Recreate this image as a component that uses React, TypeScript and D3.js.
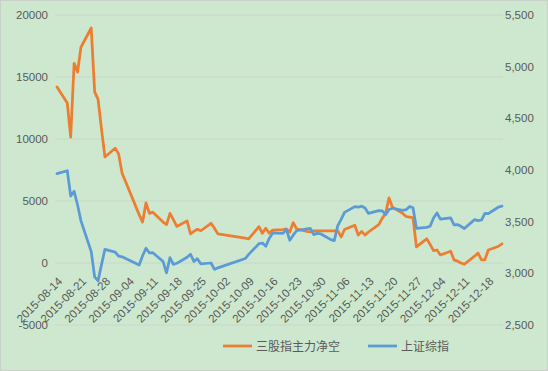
import { useMemo } from "react";
import * as d3 from "d3";

const dates = [
  "2015-08-14", "2015-08-17", "2015-08-18", "2015-08-19", "2015-08-20", "2015-08-21",
  "2015-08-24", "2015-08-25", "2015-08-26", "2015-08-27", "2015-08-28", "2015-08-31",
  "2015-09-01", "2015-09-02", "2015-09-07", "2015-09-08", "2015-09-09", "2015-09-10",
  "2015-09-11", "2015-09-14", "2015-09-15", "2015-09-16", "2015-09-17", "2015-09-18",
  "2015-09-21", "2015-09-22", "2015-09-23", "2015-09-24", "2015-09-25", "2015-09-28",
  "2015-09-29", "2015-09-30",
  "2015-10-08", "2015-10-09", "2015-10-12", "2015-10-13", "2015-10-14", "2015-10-15",
  "2015-10-16", "2015-10-19", "2015-10-20", "2015-10-21", "2015-10-22", "2015-10-23",
  "2015-10-26", "2015-10-27", "2015-10-28", "2015-10-29", "2015-10-30",
  "2015-11-02", "2015-11-03", "2015-11-04", "2015-11-05", "2015-11-06", "2015-11-09",
  "2015-11-10", "2015-11-11", "2015-11-12", "2015-11-13", "2015-11-16", "2015-11-17",
  "2015-11-18", "2015-11-19", "2015-11-20", "2015-11-23", "2015-11-24", "2015-11-25",
  "2015-11-26", "2015-11-27", "2015-11-30",
  "2015-12-01", "2015-12-02", "2015-12-03", "2015-12-04", "2015-12-07", "2015-12-08",
  "2015-12-09", "2015-12-10", "2015-12-11", "2015-12-14", "2015-12-15", "2015-12-16",
  "2015-12-17", "2015-12-18", "2015-12-21", "2015-12-22",
];

// 三股指主力净空 (left axis)
const netShort = [
  14200, 12900, 10150, 16100, 15400, 17400, 18950, 13800, 13200, 10800, 8550, 9250,
  8800, 7250, 3900, 3300, 4850, 4000, 4100, 3300, 3100, 4000, 3500, 2950, 3400, 2350,
  2550, 2720, 2600, 3200, 2800, 2350,
  2000, 1950, 2930, 2400, 2800, 2400, 2650, 2700, 2750, 2500, 3250, 2750, 2550, 2500,
  2600, 2600, 2600,
  2600, 2600, 2600, 2100, 2700, 3050, 2250, 2550, 2250, 2500, 3100, 3600, 4000, 5250,
  4500, 4000, 3750, 3700, 3650, 1300, 1950,
  1500, 1000, 1050, 650, 950, 250, 150, 0, -100, 550, 800, 250, 250, 1050, 1350, 1550,
];

// 上证综指 (right axis)
const shIndex = [
  3965, 3993, 3748, 3794, 3664, 3508, 3210, 2965, 2927, 3084, 3232, 3206,
  3166, 3160, 3080, 3170, 3243, 3197, 3200, 3114, 3005, 3152, 3086, 3097, 3156, 3185,
  3115, 3142, 3092, 3100, 3038, 3053,
  3143, 3183, 3287, 3293, 3262, 3338, 3391, 3386, 3425, 3320, 3369, 3412, 3430, 3434,
  3375, 3387, 3383,
  3326, 3316, 3459, 3522, 3590, 3646, 3640, 3650, 3632, 3580, 3607, 3604, 3568, 3618,
  3630, 3610, 3616, 3647, 3635, 3436, 3445,
  3456, 3536, 3584, 3524, 3536, 3470, 3472, 3455, 3434, 3520, 3510, 3516, 3580, 3578,
  3642, 3651,
];

const xTickLabels = [
  "2015-08-14", "2015-08-21", "2015-08-28", "2015-09-04", "2015-09-11", "2015-09-18",
  "2015-09-25", "2015-10-02", "2015-10-09", "2015-10-16", "2015-10-23", "2015-10-30",
  "2015-11-06", "2015-11-13", "2015-11-20", "2015-11-27", "2015-12-04", "2015-12-11",
  "2015-12-18",
];
const leftTicks = [-5000, 0, 5000, 10000, 15000, 20000];
const rightTicks = [2500, 3000, 3500, 4000, 4500, 5000, 5500];

const seriesNames = ["三股指主力净空", "上证综指"];
const colors = ["#ED7D31", "#5B9BD5"];

const WIDTH = 548;
const HEIGHT = 371;
const PLOT = { left: 55, right: 503, top: 15, bottom: 325 };
const FONT = "'Liberation Sans', Arial, sans-serif";
const CJK = "'Noto Sans CJK SC', sans-serif";

const parse = d3.timeParse("%Y-%m-%d");

const App = () => {
  const x = useMemo(
    () => d3.scaleTime()
      .domain([parse(dates[0])!, parse(dates[dates.length - 1])!])
      .range([57, 502]),
    []
  );
  const yLeft = d3.scaleLinear().domain([-5000, 20000]).range([PLOT.bottom, PLOT.top]);
  const yRight = d3.scaleLinear().domain([2500, 5500]).range([PLOT.bottom, PLOT.top]);

  const paths = useMemo(() => {
    const pts = dates.map((d) => parse(d)!);
    const l1 = d3.line<number>()
      .x((_, i) => x(pts[i]))
      .y((v) => yLeft(v));
    const l2 = d3.line<number>()
      .x((_, i) => x(pts[i]))
      .y((v) => yRight(v));
    return [l1(netShort), l2(shIndex)];
  }, [x]);

  const zeroY = yLeft(0);

  return (
    <svg width={WIDTH} height={HEIGHT} style={{ position: "absolute", left: 0, top: 0 }}>
      <rect x={0.5} y={0.5} width={WIDTH - 1} height={HEIGHT - 1} fill="#CDE8CF" stroke="#c8d0c8" />
      {leftTicks.map((t) => (
        <line key={t} x1={PLOT.left} x2={PLOT.right} y1={yLeft(t)} y2={yLeft(t)}
          stroke="#c9d6c8" strokeWidth={1} />
      ))}
      {leftTicks.map((t) => (
        <text key={t} x={48} y={yLeft(t) + 4} textAnchor="end" fontSize={11.5}
          fontFamily={FONT} fill="#595959">{t}</text>
      ))}
      {rightTicks.map((t) => (
        <text key={t} x={505} y={yRight(t) + 4} textAnchor="start" fontSize={11.5}
          fontFamily={FONT} fill="#595959">{d3.format(",")(t)}</text>
      ))}
      {xTickLabels.map((s) => {
        const tx = x(parse(s)!) + 6;
        const ty = zeroY + 19;
        return (
          <text key={s} x={tx} y={ty} transform={`rotate(-45, ${tx}, ${ty})`}
            textAnchor="end" fontSize={11.5} fontFamily={FONT} fill="#595959">{s}</text>
        );
      })}
      {paths.map((p, i) => (
        <path key={i} d={p || undefined} fill="none" stroke={colors[i]} strokeWidth={2.75}
          strokeLinejoin="round" strokeLinecap="round" />
      ))}
      {seriesNames.map((name, i) => {
        const lx = i === 0 ? 223 : 368;
        return (
          <g key={name}>
            <line x1={lx} x2={lx + 29} y1={346} y2={346} stroke={colors[i]} strokeWidth={2.75} />
            <text x={lx + 33} y={350.5} fontSize={12} fontFamily={CJK} fill="#595959">{name}</text>
          </g>
        );
      })}
    </svg>
  );
};

export default App;
